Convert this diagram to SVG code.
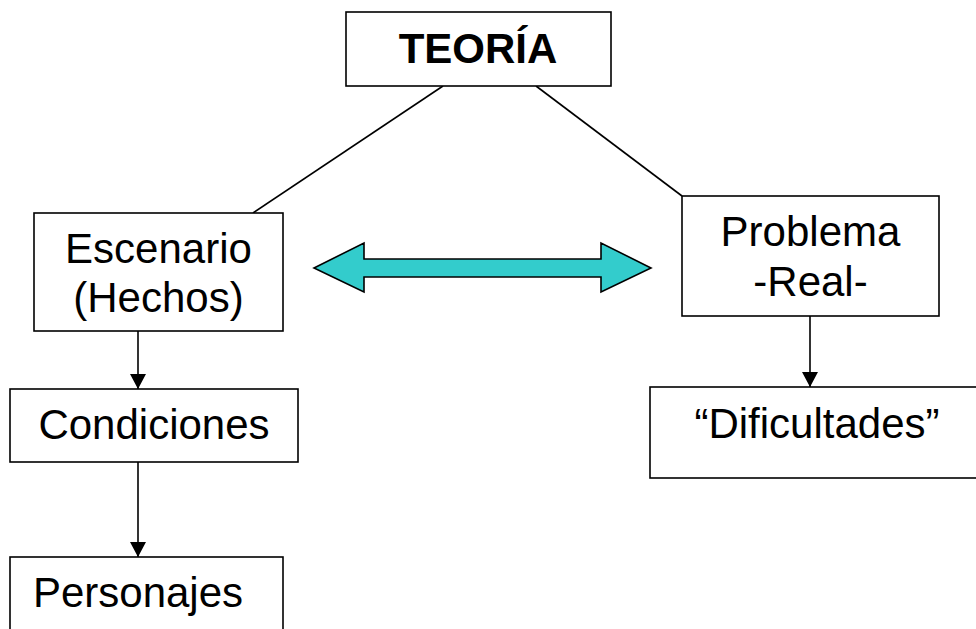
<svg xmlns="http://www.w3.org/2000/svg" width="976" height="629" viewBox="0 0 976 629">
  <defs>
    <style>
      .box { fill: #ffffff; stroke: #000000; stroke-width: 1.6; }
      .lbl { font-family: "Liberation Sans", Arial, sans-serif; font-size: 42px; fill: #000000; text-anchor: middle; }
      .bold { font-weight: bold; }
      .edge { stroke: #000000; stroke-width: 1.6; fill: none; }
      .dbl { fill: #33CCCC; stroke: #000000; stroke-width: 1.6; stroke-linejoin: miter; }
    </style>
    <marker id="arrow" markerUnits="userSpaceOnUse" markerWidth="16" markerHeight="16" viewBox="0 0 16 16" refX="15" refY="8" orient="auto">
      <path d="M0,0 L15,8 L0,16 Z" fill="#000000"/>
    </marker>
  </defs>
  <rect width="976" height="629" fill="#ffffff"/>

  <g id="connectors">
    <line class="edge" x1="443" y1="86" x2="253" y2="213"/>
    <line class="edge" x1="536" y1="86" x2="682" y2="196"/>
    <line class="edge" x1="138" y1="331" x2="138" y2="389" marker-end="url(#arrow)"/>
    <line class="edge" x1="138" y1="462" x2="138" y2="557" marker-end="url(#arrow)"/>
    <line class="edge" x1="810" y1="316" x2="810" y2="387" marker-end="url(#arrow)"/>
    <polygon class="dbl" points="314,268 364,243 364,259 601,259 601,243 651,268 601,292 601,277 364,277 364,292"/>
  </g>

  <g id="teoria">
    <rect class="box" x="346" y="12" width="265" height="74"/>
    <text class="lbl bold" x="478" y="63">TEORÍA</text>
  </g>

  <g id="escenario">
    <rect class="box" x="34" y="213" width="249" height="118"/>
    <text class="lbl" x="158.5" y="263">Escenario</text>
    <text class="lbl" x="158.5" y="312">(Hechos)</text>
  </g>

  <g id="condiciones">
    <rect class="box" x="10" y="389" width="288" height="73"/>
    <text class="lbl" x="154" y="439">Condiciones</text>
  </g>

  <g id="personajes">
    <rect class="box" x="10" y="557" width="273" height="90"/>
    <text class="lbl" x="138" y="607">Personajes</text>
  </g>

  <g id="problema">
    <rect class="box" x="682" y="196" width="257" height="120"/>
    <text class="lbl" x="810.5" y="246">Problema</text>
    <text class="lbl" x="810.5" y="296">-Real-</text>
  </g>

  <g id="dificultades">
    <rect class="box" x="650" y="387" width="340" height="91"/>
    <text class="lbl" x="817" y="438">“Dificultades”</text>
  </g>
</svg>
